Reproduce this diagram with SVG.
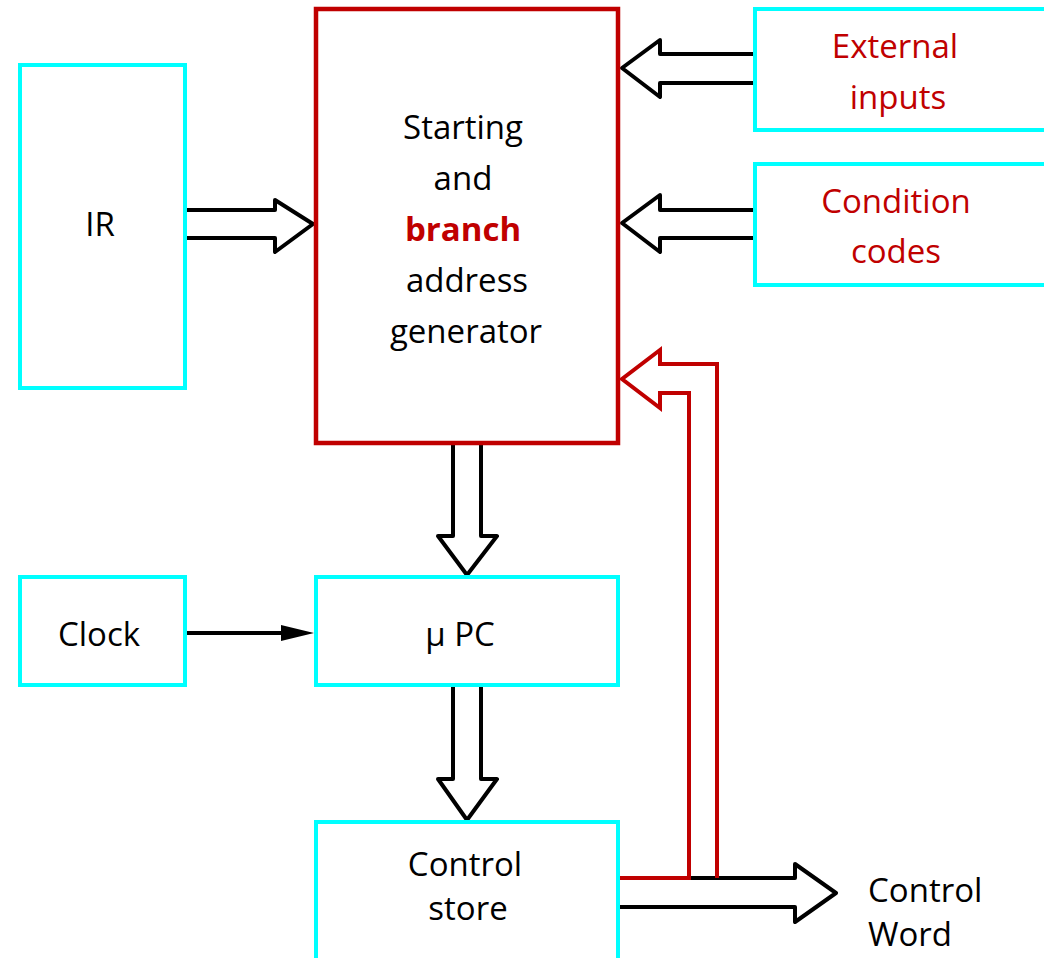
<svg xmlns="http://www.w3.org/2000/svg" width="1044" height="958" viewBox="0 0 1044 958">
<defs>
<style>
.cy{fill:#fff;stroke:#00FFFF;stroke-width:4}
.rd{fill:#fff;stroke:#C00000;stroke-width:4.5}
.ar{fill:none;stroke:#000;stroke-width:4;stroke-linejoin:round;stroke-linecap:round}
.ar-r{fill:none;stroke:#C00000;stroke-width:4;stroke-linejoin:miter}
.t{font-family:"Open Sans","Noto Sans","Liberation Sans",sans-serif;font-size:33px;fill:#000;text-anchor:middle}
.tr{fill:#C00000}
.ts{text-anchor:start}
</style>
</defs>
<rect width="1044" height="958" fill="#fff"/>
<g id="connectors">
<path class="ar" d="M187,210 H275 V200 L313,224 L275,252 V238 H187"/>
<path class="ar" d="M753,54 H660 V40 L622,68 L660,97 V83 H753"/>
<path class="ar" d="M753,210 H660 V195 L622,223 L660,252 V238 H753"/>
<path class="ar" d="M453,443 V536 H438 L467,575 L497,536 H481 V443"/>
<path class="ar" d="M453,687 V779 H438 L467,820 L497,779 H481 V687"/>
<path class="ar" d="M620,878 H795 V864 L836,893 L795,922 V907 H620"/>
<line x1="187" y1="633" x2="283" y2="633" stroke="#000" stroke-width="4"/>
<path d="M281,625 L314,633 L281,641 z" fill="#000"/>
<path class="ar-r" d="M689,878 V393 H660 V408 L622,379 L660,350 V364 H717 V878"/>
<line x1="618" y1="878" x2="691" y2="878" stroke="#C00000" stroke-width="4"/>
</g>
<g id="ir"><rect class="cy" x="20" y="65" width="165" height="323"/><text class="t" x="100" y="236">IR</text></g>
<g id="generator"><rect class="rd" x="316" y="9" width="302" height="434"/>
<text class="t" x="463" y="139">Starting</text>
<text class="t" x="463" y="190">and</text>
<text class="t tr" x="463" y="241" font-weight="bold">branch</text>
<text class="t" x="467" y="292">address</text>
<text class="t" x="466" y="343">generator</text></g>
<g id="external"><rect class="cy" x="755" y="9" width="295" height="121"/>
<text class="t tr" x="895" y="58">External</text>
<text class="t tr" x="898" y="109">inputs</text></g>
<g id="condition"><rect class="cy" x="755" y="164" width="295" height="121"/>
<text class="t tr" x="896" y="213">Condition</text>
<text class="t tr" x="896" y="263">codes</text></g>
<g id="clock"><rect class="cy" x="20" y="577" width="165" height="108"/><text class="t" x="99" y="646">Clock</text></g>
<g id="upc"><rect class="cy" x="316" y="577" width="302" height="108"/><text class="t" x="460" y="646">μ PC</text></g>
<g id="store"><rect class="cy" x="316" y="822" width="302" height="145"/>
<text class="t" x="465" y="876">Control</text>
<text class="t" x="468" y="920">store</text></g>
<g id="word"><text class="t ts" x="868" y="902">Control</text>
<text class="t ts" x="868" y="946">Word</text></g>
</svg>
